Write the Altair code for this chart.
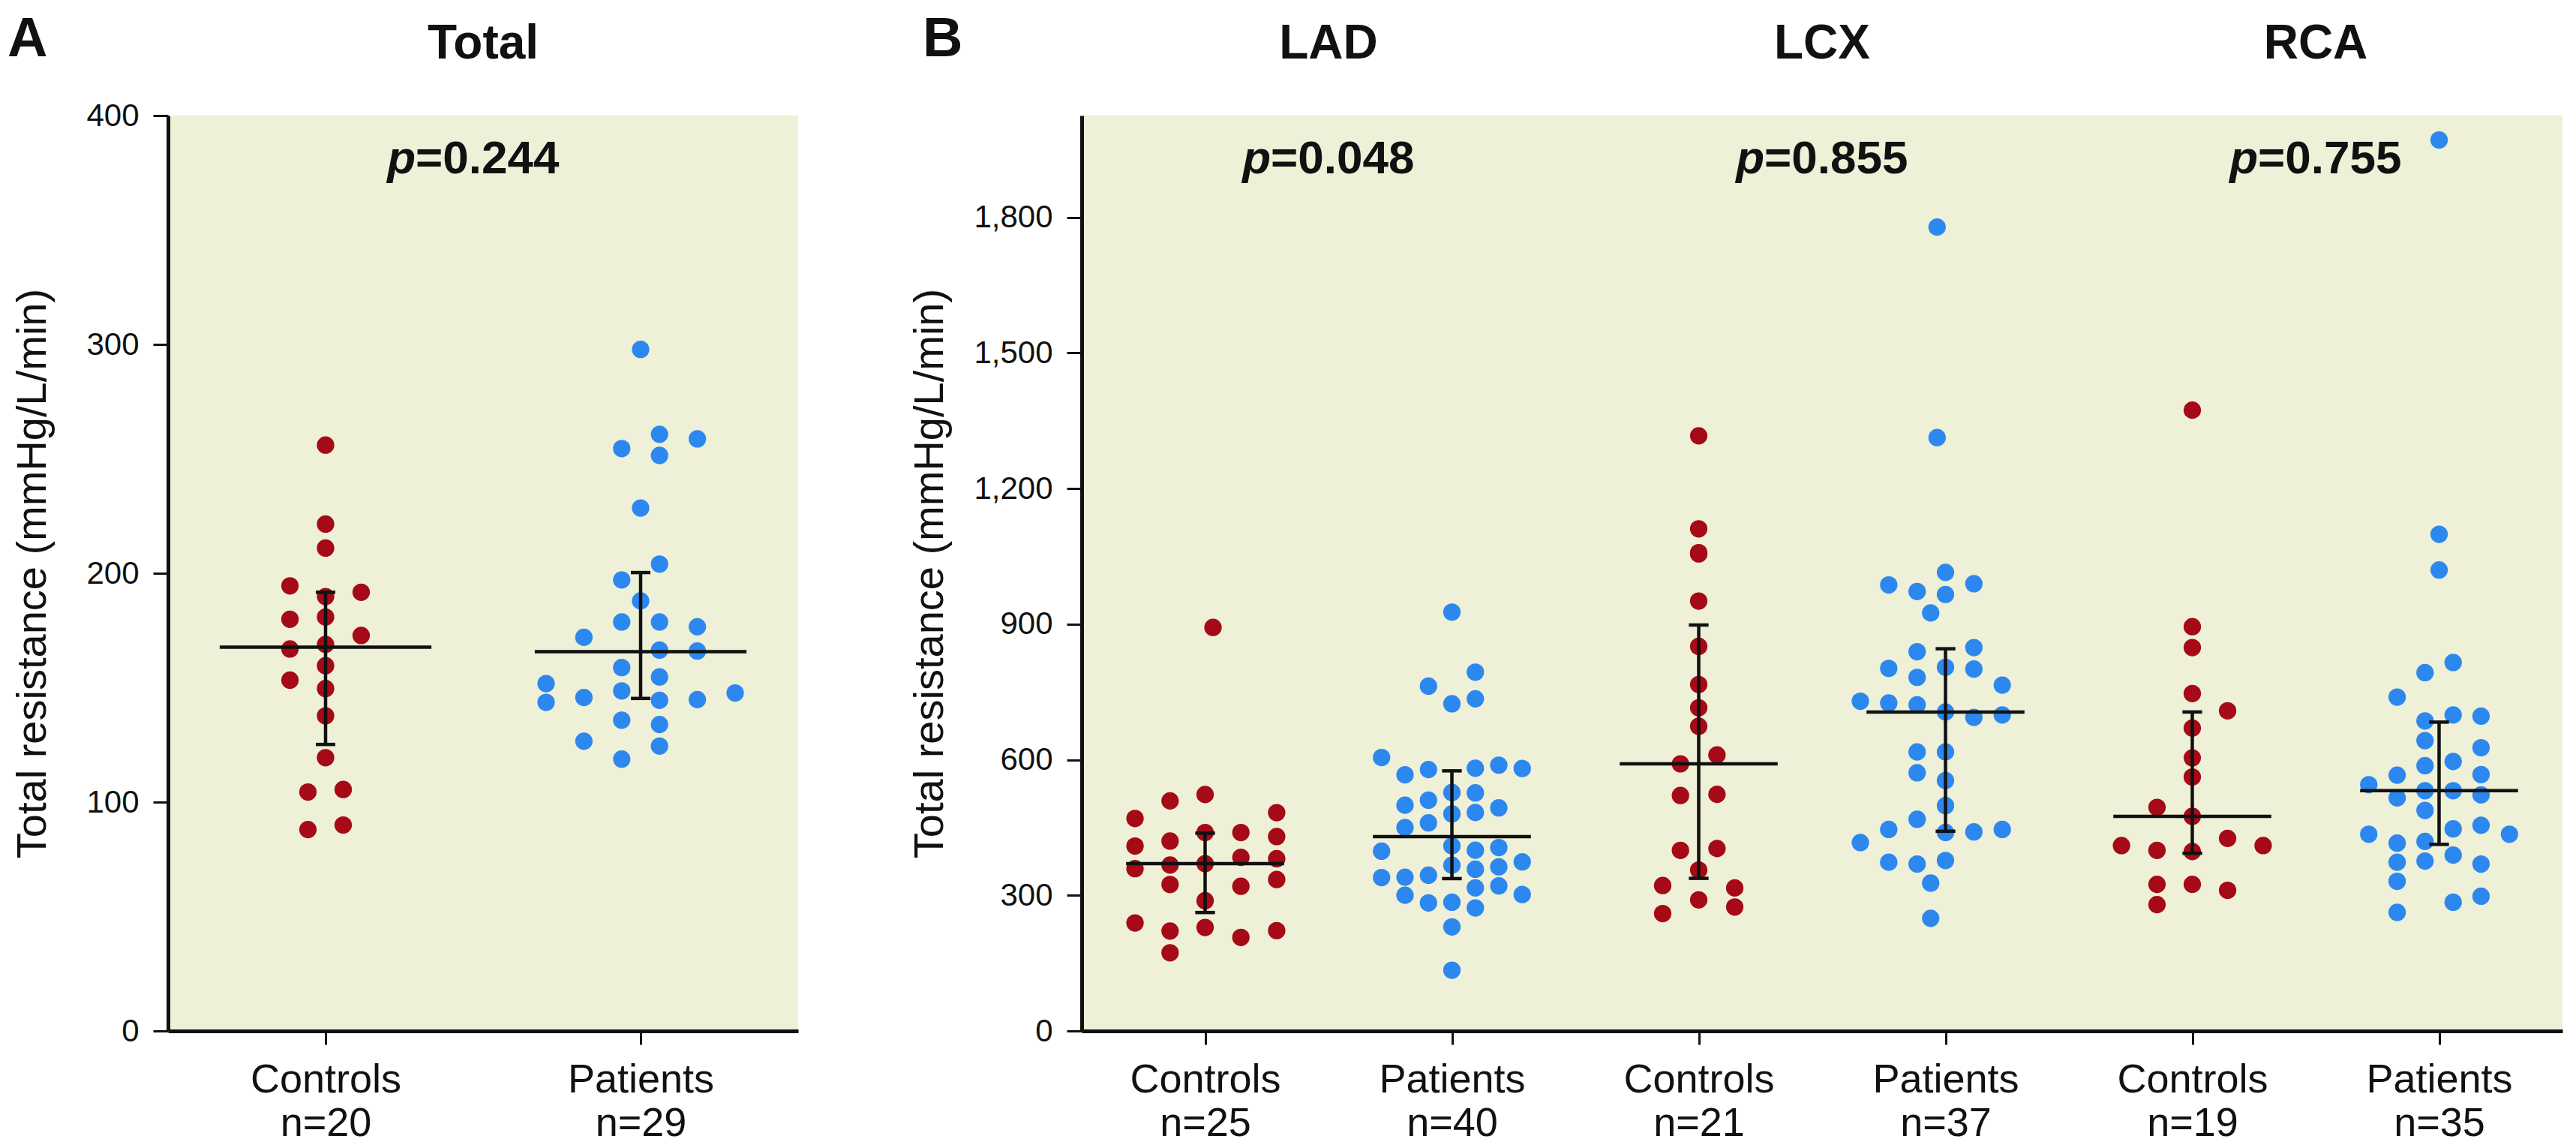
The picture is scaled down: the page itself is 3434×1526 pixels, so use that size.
import altair as alt
import pandas as pd

RED = "#A50A16"
BLUE = "#2C88EF"
BG = "#EEF0D7"
INK = "#111111"
FONT = "Liberation Sans, Arial, sans-serif"

# ---------------- Panel A (Total) ----------------
a_groups = ["Controls", "Patients"]
a_n = [20, 29]
a_ctrl_val = [256, 221.5, 211, 194.5, 191.7, 189.8, 180.9, 179.9, 172.8, 168.9,
              166.9, 159.6, 153.3, 149.6, 137.7, 119.4, 105.5, 104.4, 90, 88]
a_ctrl_off = [0, 0, 0, -0.113, 0.113, 0, 0, -0.113, 0.113, 0,
              -0.113, 0, -0.113, 0, 0, 0, 0.056, -0.056, 0.056, -0.056]
a_pat_val = [297.8, 260.7, 258.7, 254.5, 251.5, 228.5, 204, 197.1, 187.9, 178.7,
             178.7, 176.6, 172, 166.4, 166, 158.8, 154.7, 151.8, 148.6, 147.7,
             145.7, 144.8, 144.5, 143.6, 135.8, 133.9, 126.6, 124.5, 118.8]
a_pat_off = [0, 0.06, 0.18, -0.06, 0.06, 0, 0.06, -0.06, 0, -0.06,
             0.06, 0.18, -0.18, 0.06, 0.18, -0.06, 0.06, -0.30, -0.06, 0.30,
             -0.18, 0.18, 0.06, -0.30, -0.06, 0.06, -0.18, 0.06, -0.06]
a_median = [167.7, 165.7]
a_q1 = [125.2, 145.3]
a_q3 = [191.7, 200.3]
a_title = ["Total"]
a_pval = ["0.244"]

# ---------------- Panel B (LAD / LCX / RCA) ----------------
b_vessels = ["LAD", "LCX", "RCA"]
b_groups = ["Controls", "Patients", "Controls", "Patients", "Controls", "Patients"]
b_n = [25, 40, 21, 37, 19, 35]
b_pval = ["0.048", "0.855", "0.755"]

lad_ctrl_val = [892.6, 523, 509, 483, 470, 439, 439, 430, 420, 409, 384, 381, 370,
                367, 359, 324, 320, 335, 288, 239, 229, 221, 222, 207, 173]
lad_ctrl_off = [0.032, 0, -0.142, 0.29, -0.284, 0, 0.145, 0.29, -0.142, -0.284, 0.145, 0.29, 0,
                -0.142, -0.284, -0.142, 0.145, 0.29, 0, -0.284, 0, -0.142, 0.29, 0.145, -0.142]
lad_pat_val = [926.6, 793.8, 762.8, 734.7, 723.7, 604.9, 588, 581.3, 580.6, 578.3,
               566.6, 527.5, 526.7, 510.5, 499.4, 493.5, 483.2, 480.2, 460.3, 450,
               409.4, 399.8, 405.7, 397.6, 374, 366.6, 363, 357.8, 344.5, 340.1,
               339.3, 320.9, 316.5, 300.2, 301.7, 283.3, 284.8, 272.2, 230.2, 134.3]
lad_pat_off = [0, 0.095, -0.095, 0.095, 0, -0.285, 0.19, 0.095, 0.285, -0.095,
               -0.19, 0, 0.095, -0.095, -0.19, 0.19, 0.095, 0, -0.095, -0.19,
               0, 0.095, 0.19, -0.285, 0.285, 0, 0.19, 0.095, -0.095, -0.19,
               -0.285, 0.19, 0.095, -0.19, 0.285, -0.095, 0, 0.095, 0, 0]
lcx_ctrl_val = [1316.5, 1110.7, 1058, 1055.3, 951, 850.8, 766.3, 714.9, 674, 610.6, 590.9,
                523.5, 520.9, 403.5, 399.5, 356, 321.7, 316.4, 290, 274.2, 259.7]
lcx_ctrl_off = [0, 0, 0, 0, 0, 0, 0, 0, 0, 0.074, -0.074,
                0.074, -0.074, 0.074, -0.074, 0, -0.146, 0.146, 0, 0.146, -0.146]
lcx_pat_val = [1778.3, 1312.6, 1014.4, 986.7, 989.3, 972.2, 965.6, 924.7, 848.1, 838.9,
               804.6, 802, 800.6, 782.2, 765, 729.4, 725.4, 721.5, 705.6, 693.8,
               699, 617.2, 617.2, 571, 553.9, 498.4, 468.2, 445.7, 439.1, 440.4,
               445.7, 416.7, 373.2, 369.2, 377.1, 327, 249.2]
lcx_pat_off = [-0.034, -0.034, 0, -0.23, 0.115, -0.115, 0, -0.06, 0.115, -0.115,
               0, -0.23, 0.115, -0.115, 0.23, -0.345, -0.23, -0.115, 0, 0.115,
               0.23, -0.115, 0, -0.115, 0, 0, -0.115, -0.23, 0, 0.115,
               0.23, -0.345, -0.23, -0.115, 0, -0.06, -0.06]
rca_ctrl_val = [1373.3, 894.3, 848.1, 746.5, 708.3, 670, 604, 561.8, 494.5, 474.8,
                426, 410.1, 399.5, 396.9, 410.1, 324.3, 324.3, 311.2, 279.5]
rca_ctrl_off = [0, 0, 0, 0, 0.143, 0, 0, 0, -0.143, 0,
                0.143, -0.287, -0.143, 0, 0.287, -0.143, 0, 0.143, -0.143]
rca_pat_val = [1971, 1098.8, 1019.7, 815.1, 792.7, 738.6, 699, 696.4, 685.8, 642.3,
               626.5, 596.1, 586.9, 567.1, 565.8, 544.7, 531.5, 531.5, 522.2, 515.6,
               487.9, 455, 447, 435.2, 435.2, 419.3, 415.4, 389, 375.8, 373.2,
               369.2, 331, 298, 284.7, 262.3]
rca_pat_off = [0, 0, 0, 0.057, -0.057, -0.17, 0.057, 0.17, -0.057, -0.057,
               0.17, 0.057, -0.057, 0.17, -0.17, -0.285, -0.057, 0.057, 0.17, -0.17,
               -0.057, 0.17, 0.057, -0.285, 0.285, -0.057, -0.17, 0.057, -0.057, -0.17,
               0.17, -0.17, 0.17, 0.057, -0.17]
b_median = [370, 430, 590.9, 705.6, 474.8, 531.5]
b_q1 = [262, 337, 337.6, 441.8, 393, 412.7]
b_q3 = [437.5, 575.4, 898, 845.5, 705.6, 683.2]

Y_TITLE = "Total resistance (mmHg/L/min)"


def points_frame(series):
    rows = []
    for pos, (kind, vals, offs) in enumerate(series):
        for v, o in zip(vals, offs):
            rows.append({"pos": pos, "off": o, "val": v, "kind": kind})
    return pd.DataFrame(rows)


def stats_frame(groups, med, q1, q3, half_med, half_cap):
    return pd.DataFrame({
        "pos": list(range(len(groups))),
        "kind": groups,
        "med": med, "q1": q1, "q3": q3,
        "m1": [i - half_med for i in range(len(groups))],
        "m2": [i + half_med for i in range(len(groups))],
        "c1": [i - half_cap for i in range(len(groups))],
        "c2": [i + half_cap for i in range(len(groups))],
    })


def panel(pts, st, ann, letter, groups, ns, ymax, yvals, yfmt, width, height,
          title_pad, half_med, half_cap, letter_dx, p_dx):
    k = len(groups)
    labels = "[" + ",".join("'%s|n=%d'" % (g, n) for g, n in zip(groups, ns)) + "]"
    xscale = alt.Scale(domain=[-0.5, k - 0.5], nice=False, zero=False)
    yscale = alt.Scale(domain=[0, ymax], nice=False, zero=True)
    xaxis = alt.Axis(values=list(range(k)), labelExpr="split(%s[datum.value], '|')" % labels,
                     title=None, grid=False, domainWidth=5, domainColor=INK,
                     tickColor=INK, tickWidth=3, tickSize=18, labelFont=FONT,
                     labelFontSize=54, labelLineHeight=58, labelPadding=20,
                     labelColor=INK, labelAngle=0, labelLimit=600)
    yaxis = alt.Axis(values=yvals, format=yfmt, title=Y_TITLE, grid=False,
                     domainWidth=5, domainColor=INK, tickColor=INK, tickWidth=3,
                     tickSize=20, labelFont=FONT, labelFontSize=42, labelColor=INK,
                     labelPadding=19, titleFont=FONT, titleFontSize=56,
                     titleFontWeight="normal", titleColor=INK, titlePadding=title_pad,
                     titleLimit=2000)
    X = lambda f: alt.X(f, type="quantitative", scale=xscale, axis=xaxis)
    Y = lambda f: alt.Y(f, type="quantitative", scale=yscale, axis=yaxis)

    dots = alt.Chart(pts).transform_calculate(x="datum.pos + datum.off").mark_circle(
        size=540, opacity=1).encode(
        x=X("x"), y=Y("val"),
        color=alt.Color("kind:N", scale=alt.Scale(domain=["Controls", "Patients"],
                                                   range=[RED, BLUE]), legend=None))
    base = alt.Chart(st)
    med = base.mark_rule(color=INK, strokeWidth=4.5).encode(x=X("m1"), x2="m2", y=Y("med"))
    bar = base.mark_rule(color=INK, strokeWidth=4.5).encode(x=X("pos"), y=Y("q1"), y2="q3")
    cap1 = base.mark_rule(color=INK, strokeWidth=4.5).encode(x=X("c1"), x2="c2", y=Y("q1"))
    cap2 = base.mark_rule(color=INK, strokeWidth=4.5).encode(x=X("c1"), x2="c2", y=Y("q3"))

    abase = alt.Chart(ann)
    ttl = abase.mark_text(font=FONT, fontSize=64, fontWeight="bold", color=INK,
                          align="center", baseline="alphabetic").encode(
        x=X("xc"), y=alt.value(-76), text="title:N")
    pp = abase.mark_text(font=FONT, fontSize=62, fontWeight="bold", fontStyle="italic",
                         color=INK, align="right", baseline="alphabetic", dx=p_dx).encode(
        x=X("xc"), y=alt.value(77), text=alt.value("p"))
    pv = abase.mark_text(font=FONT, fontSize=62, fontWeight="bold", color=INK,
                         align="left", baseline="alphabetic", dx=p_dx).encode(
        x=X("xc"), y=alt.value(77), text="pv:N")
    let = alt.Chart(pd.DataFrame({"letter": [letter]})).mark_text(
        font=FONT, fontSize=74, fontWeight="bold", color=INK, align="left",
        baseline="alphabetic").encode(x=alt.value(letter_dx), y=alt.value(-79),
                                      text="letter:N")
    return alt.layer(dots, med, bar, cap1, cap2, ttl, pp, pv, let).properties(
        width=width, height=height)


ptsA = points_frame([("Controls", a_ctrl_val, a_ctrl_off),
                     ("Patients", a_pat_val, a_pat_off)])
stA = stats_frame(a_groups, a_median, a_q1, a_q3, 0.336, 0.031)
annA = pd.DataFrame({"xc": [0.5], "title": a_title, "pv": ["=" + p for p in a_pval]})

ptsB = points_frame([("Controls", lad_ctrl_val, lad_ctrl_off),
                     ("Patients", lad_pat_val, lad_pat_off),
                     ("Controls", lcx_ctrl_val, lcx_ctrl_off),
                     ("Patients", lcx_pat_val, lcx_pat_off),
                     ("Controls", rca_ctrl_val, rca_ctrl_off),
                     ("Patients", rca_pat_val, rca_pat_off)])
stB = stats_frame(b_groups, b_median, b_q1, b_q3, 0.32, 0.04)
annB = pd.DataFrame({"xc": [0.5, 2.5, 4.5], "title": b_vessels,
                     "pv": ["=" + p for p in b_pval]})

chartA = panel(ptsA, stA, annA, "A", a_groups, a_n, 400, [0, 100, 200, 300, 400], "d",
               840, 1220, 42, 0.336, 0.031, -214, -90)
chartB = panel(ptsB, stB, annB, "B", b_groups, b_n, 2025,
               [0, 300, 600, 900, 1200, 1500, 1800], ",d",
               1974, 1220, 29, 0.32, 0.04, -212, -77)

chart = alt.hconcat(chartA, chartB, spacing=147).properties(
    padding={"left": 2, "top": 8, "right": 2, "bottom": 0}, background="white"
).configure_view(fill=BG, stroke=None)

chart.save("out.html", embed_options={"renderer": "svg", "actions": False})
